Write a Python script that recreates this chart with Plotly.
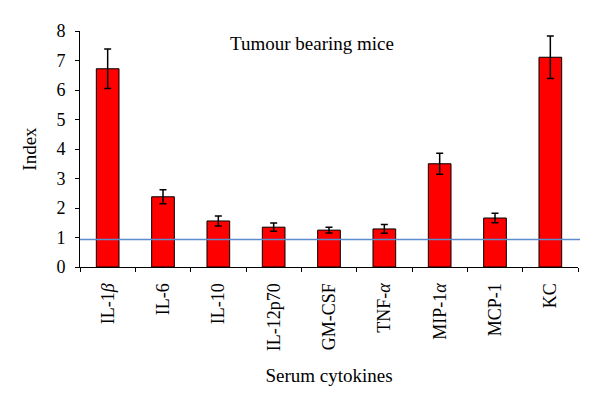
import plotly.graph_objects as go

categories = ["IL-1<i>β</i>", "IL-6", "IL-10", "IL-12p70", "GM-CSF", "TNF-<i>α</i>", "MIP-1<i>α</i>", "MCP-1", "KC"]
index_values = [6.72, 2.38, 1.56, 1.35, 1.25, 1.29, 3.50, 1.66, 7.11]
errors = [0.67, 0.24, 0.17, 0.14, 0.10, 0.15, 0.36, 0.16, 0.72]
baseline = 0.93
y_ticks = [0, 1, 2, 3, 4, 5, 6, 7, 8]

FONT = "Liberation Serif, Times New Roman, serif"

fig = go.Figure()
fig.add_trace(go.Bar(
    x=categories, y=index_values,
    marker=dict(color="#FF0000", line=dict(color="#000000", width=1)),
    width=0.41,
    error_y=dict(type="data", array=errors, visible=True, color="#000000", thickness=1.5, width=3.5),
))
fig.add_shape(type="line", xref="paper", yref="y", x0=0, x1=1.004, y0=baseline, y1=baseline,
              line=dict(color="#5B8CCB", width=1.5))

fig.update_layout(
    width=592, height=405,
    margin=dict(l=72, r=22, t=23, b=146),
    paper_bgcolor="white", plot_bgcolor="white",
    font=dict(family=FONT, size=18, color="#000000"),
    showlegend=False,
    bargap=0.59,
    xaxis=dict(
        tickangle=-90, tickson="boundaries", ticks="outside", ticklen=4, tickcolor="#000",
        showline=True, linecolor="#000", linewidth=1, showgrid=False,
        tickfont=dict(family=FONT, size=18), ticklabelstandoff=8,
        title=dict(text="Serum cytokines", font=dict(family=FONT, size=19), standoff=18),
    ),
    yaxis=dict(
        range=[0, 8], tickvals=y_ticks, ticks="outside", ticklen=4, tickcolor="#000",
        showline=True, linecolor="#000", linewidth=1, showgrid=False, zeroline=False,
        tickfont=dict(family=FONT, size=18), ticklabelstandoff=6,
        title=dict(text="Index", font=dict(family=FONT, size=19), standoff=14),
    ),
    annotations=[dict(text="Tumour bearing mice", xref="paper", yref="paper", x=0.466, y=0.949,
                      showarrow=False, font=dict(family=FONT, size=19), xanchor="center", yanchor="middle")],
)

fig.write_html("out.html")
